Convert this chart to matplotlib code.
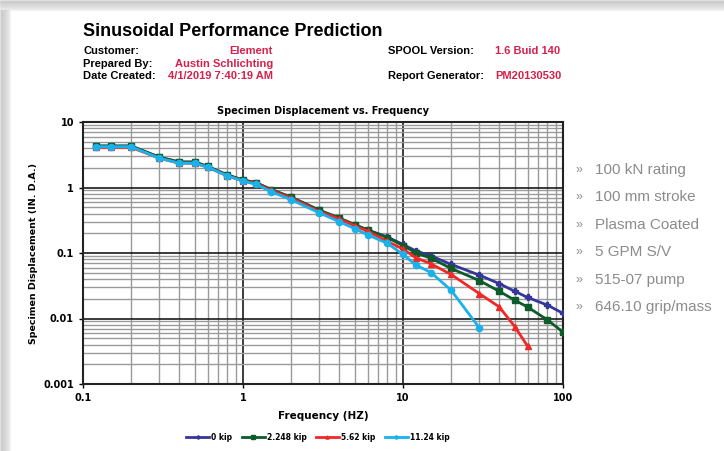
import matplotlib
matplotlib.use("Agg")
import matplotlib.pyplot as plt
from matplotlib.patches import Rectangle
from matplotlib.ticker import LogLocator, FixedLocator, FixedFormatter

# ---- data ----
freq = [0.12, 0.15, 0.2, 0.3, 0.4, 0.5, 0.6, 0.8, 1.0, 1.2, 1.5, 2, 3, 4, 5, 6, 8, 10,
        12, 15, 20, 30, 40, 50, 60, 80, 100]

disp_0kip = [4.3, 4.3, 4.3, 2.9, 2.45, 2.45, 2.1, 1.55, 1.3, 1.19, 0.93, 0.71, 0.45, 0.34, 0.27,
             0.225, 0.175, 0.135, 0.108, 0.09, 0.067, 0.046, 0.034, 0.026, 0.021, 0.016, 0.012]
disp_2kip = [4.3, 4.3, 4.3, 2.9, 2.45, 2.45, 2.1, 1.55, 1.3, 1.19, 0.93, 0.71, 0.45, 0.34, 0.27,
             0.225, 0.172, 0.13, 0.101, 0.083, 0.058, 0.038, 0.026, 0.019, 0.015, 0.0095, 0.0062]
disp_5kip = [4.1, 4.1, 4.1, 2.8, 2.35, 2.35, 2.05, 1.5, 1.27, 1.16, 0.9, 0.69, 0.43, 0.33, 0.26,
             0.215, 0.15, 0.115, 0.085, 0.068, 0.047, 0.024, 0.015, 0.0075, 0.0038]
disp_11kip = [4.2, 4.2, 4.2, 2.8, 2.35, 2.35, 2.05, 1.5, 1.25, 1.12, 0.86, 0.65, 0.41, 0.30, 0.235,
              0.19, 0.14, 0.095, 0.066, 0.05, 0.027, 0.0072]

series_labels = ['0 kip', '2.248 kip', '5.62 kip', '11.24 kip']

x_ticks = [0.1, 1, 10, 100]
x_ticklabels = ['0.1', '1', '10', '100']
y_ticks = [0.001, 0.01, 0.1, 1, 10]
y_ticklabels = ['0.001', '0.01', '0.1', '1', '10']

header_left = [('Customer:', 'Element'),
               ('Prepared By:', 'Austin Schlichting'),
               ('Date Created:', '4/1/2019 7:40:19 AM')]
header_right = [('SPOOL Version:', '1.6 Buid 140'),
                ('Report Generator:', 'PM20130530')]
features = ['100 kN rating', '100 mm stroke', 'Plasma Coated', '5 GPM S/V',
            '515-07 pump', '646.10 grip/mass']

# ---- styling ----
W, H = 724, 451
red_txt = '#d8204c'
colors = ['#35359a', '#0d5a2a', '#f02828', '#1ab2ea']
markers = ['P', 's', '^', 'o']
narrow = ['Liberation Sans Narrow', 'Liberation Sans', 'DejaVu Sans']

fig = plt.figure(figsize=(W / 100, H / 100), dpi=100)
fig.patch.set_facecolor('white')

# page shadow on top and left edge
for i in range(10):
    a = 0.05 + 0.02 * (10 - i)
    fig.patches.append(Rectangle((0, 1 - (i + 1) / H), 1, 1 / H, transform=fig.transFigure,
                                 color='#808080', alpha=a * 0.6, zorder=0))
    fig.patches.append(Rectangle((i / W, 0), 1 / W, 1 - 10 / H, transform=fig.transFigure,
                                 color='#808080', alpha=a * 0.6, zorder=0))


def fx(px):
    return px / W


def fy(py):
    return 1 - py / H


# header
fig.text(fx(83), fy(31), 'Sinusoidal Performance Prediction', fontsize=13, fontweight='bold',
         family=narrow, va='center', ha='left')
for i, (lab, val) in enumerate(header_left):
    yy = fy(51 + i * 12.5)
    fig.text(fx(83), yy, lab, fontsize=8, fontweight='bold', family=narrow, va='center')
    fig.text(fx(273), yy, val, fontsize=8, fontweight='bold', family=narrow, va='center',
             ha='right', color=red_txt)
for i, (lab, val) in enumerate(header_right):
    yy = fy(51 + i * 25)
    fig.text(fx(388), yy, lab, fontsize=8, fontweight='bold', family=narrow, va='center')
    fig.text(fx(495), yy, val, fontsize=8, fontweight='bold', family=narrow, va='center',
             color=red_txt)

# feature bullets
for i, t in enumerate(features):
    yy = fy(170 + i * 27.4)
    fig.text(fx(575), yy, '»', fontsize=9, color='#8c8c8c', va='center', family=narrow)
    fig.text(fx(595), yy, t, fontsize=11, color='#8c8c8c', va='center', family=narrow)

# chart
ax = fig.add_axes([fx(83), fy(384), (563 - 83) / W, (384 - 122) / H])
all_series = [disp_0kip, disp_2kip, disp_5kip, disp_11kip]
for ys, c, m, lab in zip(all_series, colors, markers, series_labels):
    ax.plot(freq[:len(ys)], ys, color=c, marker=m, markersize=4.5, linewidth=2, label=lab,
            zorder=3)

ax.set_xscale('log')
ax.set_yscale('log')
ax.set_xlim(0.1, 100)
ax.set_ylim(0.001, 10)

ax.xaxis.set_major_locator(FixedLocator(x_ticks))
ax.xaxis.set_major_formatter(FixedFormatter(x_ticklabels))
ax.yaxis.set_major_locator(FixedLocator(y_ticks))
ax.yaxis.set_major_formatter(FixedFormatter(y_ticklabels))
ax.xaxis.set_minor_locator(LogLocator(base=10, subs=range(2, 10)))
ax.yaxis.set_minor_locator(LogLocator(base=10, subs=range(2, 10)))
ax.xaxis.set_minor_formatter(plt.NullFormatter())
ax.yaxis.set_minor_formatter(plt.NullFormatter())

ax.grid(which='minor', color='#9a9a9a', linewidth=1.0)
ax.grid(which='major', color='#1a1a1a', linewidth=1.2)
ax.set_axisbelow(True)
for s in ax.spines.values():
    s.set_linewidth(1.5)
    s.set_color('#222222')
ax.tick_params(which='both', length=3, width=1)
ax.tick_params(which='minor', length=0)
for lab in ax.get_xticklabels() + ax.get_yticklabels():
    lab.set_fontweight('bold')
    lab.set_fontsize(7)

ax.set_title('Specimen Displacement vs. Frequency', fontsize=7, fontweight='bold', pad=6)
ax.set_xlabel('Frequency (HZ)', fontsize=7.5, fontweight='bold', labelpad=6)
ax.set_ylabel('Specimen Displacement (IN. D.A.)', fontsize=6.8, fontweight='bold', labelpad=4)

fig.legend(loc='center', bbox_to_anchor=(fx(318), fy(437)), ncol=4, frameon=False,
           prop={'size': 5.5, 'weight': 'bold'}, handlelength=3, columnspacing=1.2,
           handletextpad=0.3, markerscale=0.5)

fig.savefig('out.png', dpi=100)
